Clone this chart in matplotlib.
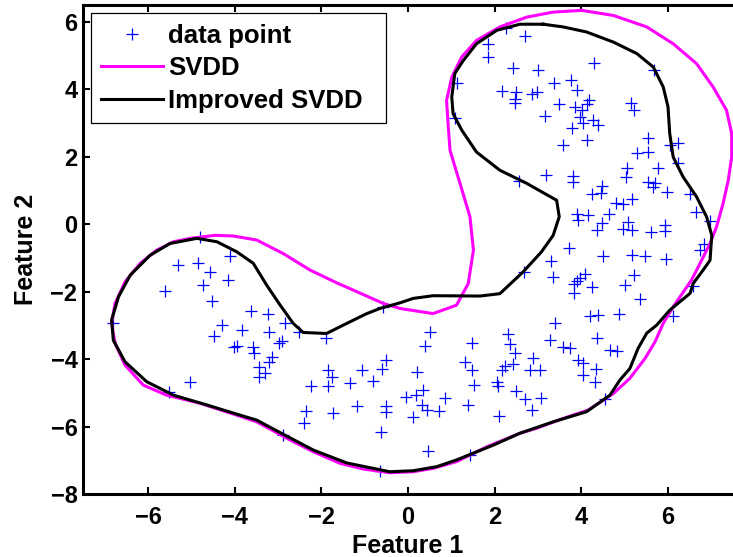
import numpy as np
import matplotlib
matplotlib.use("Agg")
import matplotlib.pyplot as plt

plt.rcParams["font.family"] = ["Liberation Sans", "DejaVu Sans"]
plt.rcParams["font.weight"] = "bold"
plt.rcParams["axes.labelweight"] = "bold"

# samples (Feature 1, Feature 2)
data_x = [-4.80, -4.11, -5.30, -4.84, -4.58, -4.16, -4.74, -5.61, -4.53, -6.81,
          -3.62, -3.22, -4.30, -3.84, -4.47, -3.20, -2.84, -2.51, -2.91, -2.97,
          -1.89, -4.01, -3.94, -3.57, -3.55, -3.14, -3.20, -3.45, -3.30, -3.45,
          -5.04, -5.51, -1.84, -1.76, -2.24, -1.84, -2.36, -1.72, -2.88, -2.40,
          -0.57, 0.51, 0.39, 1.47, 2.31, 2.35, 2.47, 3.28, 3.39, -1.07,
          -1.34, -0.80, -0.61, -0.51, 0.21, 1.31, 1.47, 1.52, 0.18, 0.35,
          -0.05, 0.85, 2.05, 2.08, 2.16, 2.24, 2.43, 2.89, 2.81, 3.04,
          2.49, 2.70, 3.06, 2.85, -1.18, -0.51, -0.51, -0.63, 0.11, 0.32,
          0.43, 0.72, 1.39, 2.11, 0.47, 1.43, -0.65,
          3.58, 3.74, 4.35, 4.66, 4.83, 3.93, 4.04, 4.34, 4.04, 4.31, 4.54,
          2.57, 3.18, 3.80, 3.80, 4.47, 4.24, 4.45, 5.05, 5.03, 5.77,
          5.54, 5.70, 5.66, 5.98, 6.24, 6.51, 6.64, 6.97, 5.28, 5.54,
          4.81, 4.95, 5.16, 4.64, 4.16, 3.91, 3.93, 4.47, 4.37, 5.08,
          4.97, 5.16, 5.61, 5.93, 5.93, 3.72, 3.31, 4.49, 5.18, 5.47,
          5.95, 6.74, 6.83, 2.68, 3.34, 4.08, 3.97, 3.89, 3.84, 4.24,
          3.84, 5.01, 5.21, 5.35, 6.58, 4.20, 4.39, 4.87, 6.11,
          2.26, 2.70, 1.85, 1.85, 2.43, 3.01, 4.29, 5.67, 1.12, 2.16,
          2.49, 2.47, 2.47, 2.85, 2.97, 3.37, 3.76, 3.91, 3.49, 3.16,
          3.85, 4.01, 4.12, 4.18, 3.97, 4.04, 4.27, 4.39, 3.78, 4.14,
          3.57, 5.14, 5.21, 1.08, 5.54, 6.04, 6.24]
data_y = [-0.38, -0.95, -1.21, -1.15, -1.43, -1.66, -1.81, -1.99, -2.27, -2.94,
          -2.57, -2.67, -2.99, -3.14, -3.31, -3.19, -2.92, -3.19, -3.46, -3.52,
          -3.36, -3.65, -3.61, -3.65, -3.81, -3.93, -4.08, -4.23, -4.41, -4.54,
          -4.69, -4.97, -4.31, -4.52, -4.79, -4.80, -5.54, -5.59, -6.25, -5.89,
          -2.45, -3.21, -3.61, -3.53, -3.27, -3.56, -3.83, -3.42, -2.94, -4.31,
          -4.70, -4.65, -4.28, -4.03, -4.38, -4.08, -4.31, -4.77, -5.07, -4.92,
          -5.12, -5.16, -4.67, -4.80, -4.33, -4.21, -4.16, -3.98, -4.31, -4.33,
          -4.94, -5.19, -5.15, -5.51, -5.38, -5.39, -5.56, -6.15, -5.71, -5.36,
          -5.51, -5.53, -5.36, -5.69, -6.73, -6.84, -7.31,
          -3.64, -3.68, -3.37, -3.73, -3.75, -4.03, -4.13, -4.28, -4.47, -4.67, -5.19,
          1.28, 1.47, 1.42, 1.24, 1.13, 0.91, 0.94, 1.68, 1.40, 1.68,
          1.25, 1.21, 1.09, 0.96, 1.82, 0.91, 0.36, 0.10, 2.11, 2.14,
          0.63, 0.61, 0.76, 0.29, 0.27, 0.30, 0.12, 0.04, -0.18, 0.07,
          -0.13, -0.18, -0.23, -0.03, -0.20, -0.72, -1.09, -0.95, -0.90, -0.95,
          -1.02, -0.77, -0.60, -1.41, -1.56, -1.48, -1.59, -1.69, -1.76, -1.86,
          -2.05, -1.81, -1.51, -2.23, -1.84, -2.72, -2.70, -2.67, -2.73,
          5.83, 5.58, 5.35, 4.96, 4.63, 4.58, 4.78, 4.58, 4.19, 3.95,
          3.92, 3.72, 3.59, 3.85, 3.92, 4.19, 4.27, 3.99, 3.55, 3.20,
          3.48, 3.38, 3.56, 3.67, 3.18, 3.00, 3.08, 2.93, 2.84, 2.49,
          2.36, 3.58, 3.40, 3.16, 2.57, 2.34, 2.41]

# SVDD boundary
svdd_x = [4.01, 4.74, 5.51, 6.12, 6.66, 7.04, 7.35, 7.47, 7.47, 7.39,
          7.27, 7.12, 6.97, 6.74, 6.54, 6.12, 5.89, 5.70, 5.47, 5.12,
          4.74, 4.16, 3.58, 2.97, 2.58, 1.82, 1.12, 0.58, 0.12, -0.42,
          -1.03, -1.57, -2.18, -2.72, -3.49, -4.03, -4.80, -5.57, -6.11, -6.53,
          -6.76, -6.84, -6.76, -6.53, -6.18, -5.80, -5.41, -5.03, -4.45, -4.03,
          -3.49, -2.88, -2.26, -1.61, -1.34, -0.57, -0.18, 0.58, 1.12, 1.39,
          1.51, 1.43, 1.20, 0.97, 0.93, 0.89, 1.01, 1.24, 1.58, 2.12,
          2.74, 3.35]
svdd_y = [6.34, 6.19, 5.85, 5.35, 4.76, 4.07, 3.38, 2.69, 1.99, 1.30,
          0.61, -0.08, -0.57, -1.16, -1.66, -2.45, -2.94, -3.49, -3.98, -4.57,
          -5.02, -5.51, -5.76, -6.05, -6.20, -6.60, -7.04, -7.24, -7.34, -7.37,
          -7.26, -7.09, -6.75, -6.40, -5.86, -5.63, -5.31, -5.07, -4.77, -4.18,
          -3.53, -2.94, -2.35, -1.71, -1.16, -0.77, -0.52, -0.42, -0.33, -0.35,
          -0.47, -0.87, -1.36, -1.76, -1.91, -2.35, -2.50, -2.65, -2.40, -1.76,
          -0.77, 0.22, 1.21, 2.19, 2.88, 3.67, 4.36, 4.96, 5.45, 5.85,
          6.14, 6.29]

# Improved SVDD boundary
improved_x = [3.12, 3.58, 4.12, 4.74, 5.28, 5.66, 5.89, 6.00, 6.04, 6.12,
              6.35, 6.66, 6.89, 7.01, 6.97, 6.81, 6.58, 6.51, 6.04, 5.74,
              5.51, 5.31, 5.12, 4.89, 4.66, 4.12, 3.35, 2.58, 1.97, 1.12,
              0.66, 0.12, -0.42, -1.41, -2.18, -2.95, -3.49, -3.88, -4.64, -5.41,
              -6.03, -6.53, -6.80, -6.84, -6.68, -6.41, -5.95, -5.49, -4.87, -4.41,
              -3.95, -3.57, -3.26, -2.95, -2.65, -2.42, -1.88, -1.49, -0.95, -0.65,
              -0.18, 0.12, 0.58, 1.66, 2.12, 2.66, 3.08, 3.35, 3.49, 3.43,
              2.74, 2.12, 1.58, 1.24, 1.04, 1.01, 1.08, 1.28, 1.58, 2.05,
              2.58]
improved_y = [5.93, 5.85, 5.70, 5.40, 5.06, 4.66, 4.07, 3.48, 2.69, 1.99,
              1.40, 0.81, 0.22, -0.33, -1.07, -1.36, -1.76, -2.05, -2.55, -2.99,
              -3.23, -3.68, -4.28, -4.62, -5.07, -5.56, -5.86, -6.20, -6.55, -6.99,
              -7.19, -7.31, -7.34, -7.08, -6.70, -6.18, -5.81, -5.66, -5.36, -5.07,
              -4.67, -4.08, -3.44, -2.84, -2.15, -1.51, -0.92, -0.57, -0.42, -0.52,
              -0.82, -1.16, -1.81, -2.40, -2.94, -3.21, -3.24, -2.99, -2.65, -2.50,
              -2.33, -2.20, -2.12, -2.13, -2.06, -1.41, -0.82, -0.33, 0.22, 0.71,
              1.21, 1.60, 2.14, 2.79, 3.28, 3.77, 4.47, 4.86, 5.35, 5.75,
              5.93]

x_ticks = [-6, -4, -2, 0, 2, 4, 6]
y_ticks = [-8, -6, -4, -2, 0, 2, 4, 6]

fig = plt.figure(figsize=(7.33, 5.57), dpi=100)
ax = fig.add_axes([83 / 733, 63 / 557, 650 / 733, 489 / 557])

ax.plot(data_x, data_y, "+", color="b", ms=9, mew=0.9, ls="none", label="data point")
ax.plot(svdd_x + svdd_x[:1], svdd_y + svdd_y[:1], color="#ff00ff", lw=2.2, label="SVDD")
ax.plot(improved_x + improved_x[:1], improved_y + improved_y[:1], color="k", lw=2.2,
        label="Improved SVDD")

ax.set_xlim(-7.5, 7.5)
ax.set_ylim(-8, 6.5)
ax.set_xticks(x_ticks)
ax.set_yticks(y_ticks)
ax.tick_params(direction="in", length=5, width=1.5, top=True, right=False,
               labelsize=17)
ax.tick_params(axis="x", pad=9)
ax.tick_params(axis="y", pad=4)
for side in ["left", "bottom", "top"]:
    ax.spines[side].set_linewidth(2.2)
ax.spines["right"].set_visible(False)

ax.set_xlabel("Feature 1", fontsize=18, labelpad=3)
ax.set_ylabel("Feature 2", fontsize=18, labelpad=9)

leg = ax.legend(loc="lower left", bbox_to_anchor=(91 / 733, 1 - 123 / 557, 295 / 733, 113 / 557),
                bbox_transform=fig.transFigure, mode="expand", borderaxespad=0,
                fontsize=18.5, numpoints=1, handlelength=2.4, handletextpad=0.2,
                labelspacing=0.33, borderpad=0.4, fancybox=False, framealpha=1)
leg.get_frame().set_edgecolor("k")
leg.get_frame().set_linewidth(0.9)

fig.savefig("out.png", dpi=100)
